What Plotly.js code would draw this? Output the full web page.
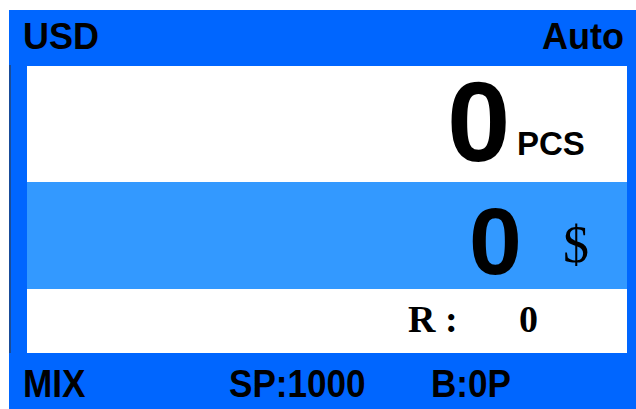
<!DOCTYPE html>
<html>
<head>
<meta charset="utf-8">
<script src="https://cdn.plot.ly/plotly-3.0.1.min.js"></script>
<style>html,body{margin:0;padding:0;background:#fff;}#chart{width:636px;height:409px;}</style>
</head>
<body>
<div id="chart"></div>
<script>
// Display contents
var currencyCode = 'USD';
var modeLabel = 'Auto';
var pieceCount = 0;
var pieceUnit = 'PCS';
var amountValue = 0;
var amountSymbol = '$';
var rejectLabel = 'R :';
var rejectCount = 0;
var bottomLabels = ['MIX', 'SP:1000', 'B:0P'];

var BLUE = '#0066FF';
var LIGHT = '#3399FF';
var SANS = 'Liberation Sans, Arial, sans-serif';
var SERIF = 'Liberation Serif, Times New Roman, serif';

function rect(x0, y0, x1, y1, color) {
  return {type: 'rect', xref: 'x', yref: 'y', x0: x0, y0: y0, x1: x1, y1: y1,
          fillcolor: color, line: {width: 0}, layer: 'below'};
}
function ann(text, x, y, xanchor, family, size, bold) {
  return {xref: 'x', yref: 'y', x: x, y: y, text: bold ? '<b>' + text + '</b>' : String(text),
          showarrow: false, xanchor: xanchor, yanchor: 'middle',
          font: {family: family, size: size, color: '#000'}, borderpad: 0};
}

var shapes = [
  rect(9, 10, 636, 409, BLUE),
  rect(27, 66, 627, 182, '#FFFFFF'),
  rect(27, 182, 627, 289, LIGHT),
  rect(27, 289, 627, 353, '#FFFFFF'),
  {type: 'line', xref: 'x', yref: 'y', x0: 10, x1: 10, y0: 65, y1: 353, line: {color: '#333333', width: 1}}
];

var annotations = [
  ann(currencyCode, 22, 36, 'left', SANS, 36, true),
  ann(modeLabel, 625, 36, 'right', SANS, 36, true),
  ann(pieceCount, 478, 121.5, 'center', SANS, 114, true),
  ann(pieceUnit, 516, 143, 'left', SANS, 33, true),
  ann(amountValue, 495, 240.5, 'center', SANS, 95, true),
  ann(amountSymbol, 576, 244.5, 'center', SERIF, 52, false),
  ann(rejectLabel, 407, 319, 'left', SERIF, 38, true),
  ann(rejectCount, 528.5, 319, 'center', SERIF, 38, true),
  ann(bottomLabels[0], 22, 383, 'left', SANS, 39, true),
  ann(bottomLabels[1], 228, 383, 'left', SANS, 39, true),
  ann(bottomLabels[2], 430, 383, 'left', SANS, 39, true)
];

var layout = {
  width: 636, height: 409,
  margin: {l: 0, r: 0, t: 0, b: 0, pad: 0},
  paper_bgcolor: '#FFFFFF', plot_bgcolor: '#FFFFFF',
  xaxis: {range: [0, 636], visible: false, fixedrange: true},
  yaxis: {range: [409, 0], visible: false, fixedrange: true},
  showlegend: false,
  shapes: shapes,
  annotations: annotations
};

Plotly.newPlot('chart', [{type: 'scatter', x: [], y: [], mode: 'markers'}], layout,
  {staticPlot: true, displayModeBar: false}).then(function (gd) {
  // condensed bottom-bar lettering: squeeze horizontally, keeping the left edge fixed
  var squeeze = 0.9;
  [8, 9, 10].forEach(function (i) {
    var g = gd.querySelector('.annotation[data-index="' + i + '"]');
    if (!g) return;
    var t = g.querySelector('text.annotation-text');
    if (!t) return;
    var bb = t.getBBox();
    t.setAttribute('transform', 'translate(' + (bb.x * (1 - squeeze)) + ',0) scale(' + squeeze + ',1)');
  });
});
</script>
</body>
</html>
